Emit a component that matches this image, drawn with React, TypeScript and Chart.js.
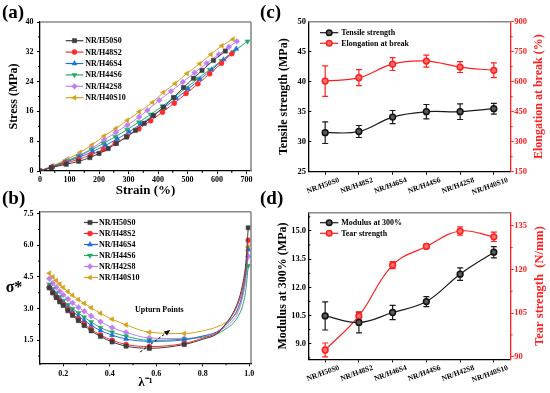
import React, { useEffect, useRef } from 'react';
import { Chart, registerables } from 'chart.js';
import { drawPoint } from 'chart.js/helpers';

Chart.register(...registerables);

const SERIF = '"Liberation Serif", "Times New Roman", Times, serif';
Chart.defaults.font.family = SERIF;
Chart.defaults.color = '#000';

// ---------------- DATA ----------------
const sampleNames = ['NR/H50S0', 'NR/H48S2', 'NR/H46S4', 'NR/H44S6', 'NR/H42S8', 'NR/H40S10'];

// (a) stress-strain
const strainH50S0 = [0, 38, 89, 131, 169, 200, 231, 259, 293, 323, 353, 385, 418, 452, 486, 520, 549, 588, 628];
const stressH50S0 = [0, 0.9, 1.8, 2.6, 3.6, 4.7, 6.0, 7.4, 9.1, 10.9, 12.8, 14.9, 17.1, 19.7, 22.4, 24.9, 27.0, 29.7, 32.2];
const strainH48S2 = [0, 40, 85, 130, 172, 215, 255, 295, 335, 375, 415, 455, 495, 535, 575, 615, 650];
const stressH48S2 = [0, 1.0, 2.1, 3.1, 4.3, 5.8, 7.4, 9.3, 11.3, 13.5, 15.8, 18.2, 20.8, 23.4, 26.1, 28.9, 31.5];
const strainH46S4 = [0, 42, 88, 133, 178, 222, 262, 302, 342, 382, 422, 462, 502, 542, 582, 622, 665];
const stressH46S4 = [0, 1.1, 2.4, 3.7, 5.2, 6.9, 8.6, 10.5, 12.6, 14.8, 17.1, 19.5, 22.0, 24.6, 27.2, 29.9, 32.8];
const strainH44S6 = [0, 40, 85, 130, 175, 215, 255, 295, 335, 375, 415, 455, 495, 535, 575, 615, 655, 703];
const stressH44S6 = [0, 1.2, 2.6, 4.0, 5.7, 7.4, 9.2, 11.1, 13.1, 15.2, 17.4, 19.8, 22.3, 24.8, 27.2, 29.6, 32.0, 34.8];
const strainH42S8 = [0, 43, 93, 136, 176, 217, 257, 296, 336, 364, 404, 444, 484, 524, 565, 606, 640, 667];
const stressH42S8 = [0, 1.2, 2.7, 4.3, 6.1, 8.3, 10.4, 12.3, 14.5, 16.3, 19.0, 21.4, 23.9, 26.4, 28.9, 31.3, 33.3, 34.8];
const strainH40S10 = [0, 43, 93, 136, 176, 217, 257, 296, 336, 381, 418, 458, 498, 541, 579, 616, 654];
const stressH40S10 = [0, 1.4, 3.2, 5.0, 7.0, 9.4, 11.4, 13.6, 15.9, 18.4, 21.1, 23.5, 26.2, 28.8, 31.3, 33.6, 35.4];
const strainTicks = [0, 100, 200, 300, 400, 500, 600, 700];
const stressTicks = [0, 8, 16, 24, 32, 40];

// (b) Mooney-Rivlin
const invLambda = [0.14, 0.155, 0.17, 0.185, 0.2, 0.22, 0.24, 0.265, 0.29, 0.32, 0.36, 0.41, 0.47, 0.57, 0.72, 0.8, 0.86, 0.9, 0.93, 0.95, 0.97, 0.985, 0.995];
const sigmaH50S0 = [3.98, 3.74, 3.52, 3.32, 3.15, 2.9, 2.68, 2.43, 2.2, 1.95, 1.68, 1.42, 1.22, 1.12, 1.3, 1.55, 1.8, 2.3, 2.8, 3.3, 4.1, 5.2, 6.83];
const sigmaH48S2 = [4.0, 3.76, 3.55, 3.36, 3.2, 2.96, 2.75, 2.5, 2.27, 2.02, 1.75, 1.5, 1.3, 1.2, 1.35, 1.6, 1.85, 2.3, 2.75, 3.2, 3.9, 4.9, 6.24];
const sigmaH46S4 = [4.05, 3.83, 3.63, 3.44, 3.27, 3.06, 2.86, 2.64, 2.44, 2.21, 1.96, 1.74, 1.56, 1.45, 1.52, 1.7, 1.9, 2.25, 2.6, 3.0, 3.7, 4.7, 5.8];
const sigmaH44S6 = [4.15, 3.93, 3.73, 3.55, 3.38, 3.18, 3.0, 2.79, 2.59, 2.37, 2.1, 1.88, 1.69, 1.5, 1.55, 1.65, 1.8, 2.05, 2.3, 2.6, 3.1, 3.9, 5.03];
const sigmaH42S8 = [4.42, 4.2, 4.01, 3.82, 3.65, 3.45, 3.27, 3.06, 2.87, 2.65, 2.38, 2.1, 1.87, 1.61, 1.58, 1.7, 1.88, 2.15, 2.45, 2.8, 3.5, 4.4, 5.47];
const sigmaH40S10 = [4.68, 4.5, 4.33, 4.16, 4.0, 3.81, 3.63, 3.43, 3.25, 3.04, 2.78, 2.5, 2.23, 1.88, 1.82, 1.95, 2.13, 2.35, 2.6, 2.9, 3.6, 4.7, 5.92];
const invLambdaTicks = [0.2, 0.4, 0.6, 0.8, 1.0];
const sigmaTicks = [1.5, 3.0, 4.5, 6.0, 7.5];
const upturnArrowFrom = [0.531, 0.95];
const upturnArrowTo = [0.66, 1.99];
const upturnLabelAt = [0.613, 2.95];

// (c) tensile strength / elongation
const tensileStrength = [31.5, 31.7, 34.1, 35.0, 35.0, 35.5];
const tensileErr = [1.8, 1.0, 1.1, 1.2, 1.3, 0.9];
const elongation = [603, 620, 688, 703, 673, 657];
const elongationErr = [76, 40, 32, 30, 27, 37];
const tensileTicks = [25, 30, 35, 40, 45, 50];
const elongationTicks = [150, 300, 450, 600, 750, 900];

// (d) modulus / tear strength
const modulus300 = [10.48, 10.13, 10.66, 11.24, 12.7, 13.87];
const modulusErr = [0.75, 0.55, 0.38, 0.27, 0.33, 0.3];
const tearStrength = [92.3, 104.0, 121.5, 127.9, 133.2, 131.2];
const tearErr = [2.4, 1.3, 1.2, 0.7, 1.4, 1.6];
const modulusTicks = [9.0, 10.5, 12.0, 13.5, 15.0];
const tearTicks = [90, 105, 120, 135];

// ---------------- STYLES ----------------
const seriesStyles = [
  { color: '#3d3d3d', pointStyle: 'rect', rotation: 0, r: 3.0 },
  { color: '#ff2b2b', pointStyle: 'circle', rotation: 0, r: 2.5 },
  { color: '#1c6fe3', pointStyle: 'triangle', rotation: 0, r: 2.9 },
  { color: '#27a865', pointStyle: 'triangle', rotation: 180, r: 2.9 },
  { color: '#c07ff0', pointStyle: 'rectRot', rotation: 0, r: 2.9 },
  { color: '#d8a01a', pointStyle: 'triangle', rotation: -90, r: 2.9 },
];
const RED = '#ff1f1f';
const AXIS = '#000';
const FRAME = '#8a8a8a';

// ---------------- PLUGINS ----------------
const makeFrame = (rightColor: string | null) => ({
  id: 'frame',
  afterDatasetsDraw(chart: any) {
    const { ctx, chartArea: a } = chart;
    ctx.save();
    ctx.lineWidth = 1.6;
    ctx.strokeStyle = FRAME;
    ctx.beginPath();
    ctx.moveTo(a.left, a.top);
    ctx.lineTo(a.right, a.top);
    if (rightColor) {
      ctx.moveTo(a.right, a.top);
      ctx.lineTo(a.right, a.bottom);
    }
    ctx.stroke();
    ctx.restore();
  },
});

type Minor = { id: string; step: number; len: number };
const makeMinorTicks = (list: Minor[]) => ({
  id: 'minorTicks',
  afterDraw(chart: any) {
    const { ctx, chartArea: a } = chart;
    list.forEach(({ id, step, len }) => {
      const s = chart.scales[id];
      if (!s) return;
      const color = s.options.border.color;
      ctx.save();
      ctx.strokeStyle = color;
      ctx.lineWidth = 1;
      const start = Math.ceil(s.min / step - 1e-6);
      const end = Math.floor(s.max / step + 1e-6);
      for (let k = start; k <= end; k++) {
        const v = k * step;
        if (s.ticks.some((t: any) => Math.abs(t.value - v) < step * 1e-3)) continue;
        const p = s.getPixelForValue(v);
        ctx.beginPath();
        if (s.isHorizontal()) {
          ctx.moveTo(p, a.bottom);
          ctx.lineTo(p, a.bottom + len);
        } else if (s.position === 'left') {
          ctx.moveTo(a.left, p);
          ctx.lineTo(a.left - len, p);
        } else {
          ctx.moveTo(a.right, p);
          ctx.lineTo(a.right + len, p);
        }
        ctx.stroke();
      }
      ctx.restore();
    });
  },
});

type LegendCfg = { x: number; y: number; rowH: number; lineLen: number; markerAt: number; textX: number; size: number; radius: number };
const makeLegend = (c: LegendCfg) => ({
  id: 'lineLegend',
  afterDraw(chart: any) {
    const { ctx, chartArea: a } = chart;
    ctx.save();
    ctx.font = `bold ${c.size}px ${SERIF}`;
    ctx.textBaseline = 'middle';
    ctx.textAlign = 'left';
    chart.data.datasets.forEach((ds: any, i: number) => {
      const y = a.top + c.y + i * c.rowH;
      const x0 = a.left + c.x;
      ctx.strokeStyle = ds.borderColor;
      ctx.lineWidth = 1.2;
      ctx.beginPath();
      ctx.moveTo(x0, y);
      ctx.lineTo(x0 + c.lineLen, y);
      ctx.stroke();
      ctx.fillStyle = ds.pointBackgroundColor;
      ctx.strokeStyle = ds.pointBorderColor;
      ctx.lineWidth = ds.pointBorderWidth;
      drawPoint(ctx, { pointStyle: ds.pointStyle, rotation: ds.pointRotation || 0, radius: ds.legendRadius || c.radius, borderWidth: ds.pointBorderWidth }, x0 + c.markerAt, y);
      ctx.fillStyle = '#000';
      ctx.fillText(ds.label, x0 + c.textX, y + 0.5);
    });
    ctx.restore();
  },
});

const errorBars = {
  id: 'errorBars',
  beforeDatasetsDraw(chart: any) {
    const { ctx } = chart;
    chart.data.datasets.forEach((ds: any, i: number) => {
      if (!ds.errors) return;
      const meta = chart.getDatasetMeta(i);
      const ys = chart.scales[meta.yAxisID];
      ctx.save();
      ctx.strokeStyle = ds.borderColor;
      ctx.lineWidth = 1.2;
      meta.data.forEach((pt: any, j: number) => {
        const v = ds.data[j];
        const e = ds.errors[j];
        const yt = ys.getPixelForValue(v + e);
        const yb = ys.getPixelForValue(v - e);
        const x = pt.x;
        ctx.beginPath();
        ctx.moveTo(x, yt);
        ctx.lineTo(x, yb);
        ctx.moveTo(x - 3, yt);
        ctx.lineTo(x + 3, yt);
        ctx.moveTo(x - 3, yb);
        ctx.lineTo(x + 3, yb);
        ctx.stroke();
      });
      ctx.restore();
    });
  },
};

type SideItem = { text: string; x: number; size: number; color: string; rotate: number; y?: number };
const makeSideText = (items: SideItem[]) => ({
  id: 'sideText',
  afterDraw(chart: any) {
    const { ctx, chartArea: a } = chart;
    items.forEach((it) => {
      ctx.save();
      ctx.font = `bold ${it.size}px ${SERIF}`;
      ctx.fillStyle = it.color;
      ctx.textAlign = 'center';
      ctx.textBaseline = 'middle';
      ctx.translate(it.x, it.y ?? (a.top + a.bottom) / 2);
      if (it.rotate) ctx.rotate(it.rotate);
      ctx.fillText(it.text, 0, 0);
      ctx.restore();
    });
  },
});

const upturnPlugin = {
  id: 'upturn',
  afterDatasetsDraw(chart: any) {
    const { ctx } = chart;
    const xs = chart.scales.x;
    const ys = chart.scales.y;
    const x1 = xs.getPixelForValue(upturnArrowFrom[0]);
    const y1 = ys.getPixelForValue(upturnArrowFrom[1]);
    const x2 = xs.getPixelForValue(upturnArrowTo[0]);
    const y2 = ys.getPixelForValue(upturnArrowTo[1]);
    const ang = Math.atan2(y2 - y1, x2 - x1);
    ctx.save();
    ctx.strokeStyle = '#000';
    ctx.fillStyle = '#000';
    ctx.lineWidth = 1;
    ctx.setLineDash([2.5, 2]);
    ctx.beginPath();
    ctx.moveTo(x1, y1);
    ctx.lineTo(x2 - 4 * Math.cos(ang), y2 - 4 * Math.sin(ang));
    ctx.stroke();
    ctx.setLineDash([]);
    ctx.beginPath();
    ctx.moveTo(x2, y2);
    ctx.lineTo(x2 - 6 * Math.cos(ang) + 2.6 * Math.sin(ang), y2 - 6 * Math.sin(ang) - 2.6 * Math.cos(ang));
    ctx.lineTo(x2 - 6 * Math.cos(ang) - 2.6 * Math.sin(ang), y2 - 6 * Math.sin(ang) + 2.6 * Math.cos(ang));
    ctx.closePath();
    ctx.fill();
    ctx.font = `bold 8px ${SERIF}`;
    ctx.textAlign = 'center';
    ctx.textBaseline = 'middle';
    ctx.fillText('Upturn Points', xs.getPixelForValue(upturnLabelAt[0]), ys.getPixelForValue(upturnLabelAt[1]));
    ctx.restore();
  },
};

// ---------------- AXIS HELPERS ----------------
const bold = (size: number) => ({ family: SERIF, size, weight: 'bold' as const });

type AxisOpts = {
  position: 'left' | 'right' | 'bottom';
  min: number;
  max: number;
  ticks: number[];
  fmt: (v: number) => string;
  fit: number;
  tl: number;
  pad: number;
  color: string;
  size: number;
  title?: { text: string; size: number; pt?: number; pb?: number };
};
function linearAxis(o: AxisOpts) {
  return {
    type: 'linear',
    position: o.position,
    min: o.min,
    max: o.max,
    afterBuildTicks: (s: any) => {
      s.ticks = o.ticks.map((v) => ({ value: v }));
    },
    afterFit: (s: any) => {
      if (o.position === 'bottom') s.height = o.fit;
      else s.width = o.fit;
    },
    border: { display: true, color: o.color, width: 1.3 },
    grid: { display: true, drawOnChartArea: false, drawTicks: true, tickLength: o.tl, color: o.color, tickColor: o.color, tickWidth: 1 },
    ticks: { font: bold(o.size), color: o.color, padding: o.pad, autoSkip: false, maxRotation: 0, callback: (v: any) => o.fmt(Number(v)) },
    title: o.title
      ? { display: true, text: o.title.text, color: o.color, font: bold(o.title.size), padding: { top: o.title.pt ?? 0, bottom: o.title.pb ?? 0 } }
      : { display: false },
  };
}

const baseOptions = (padTop: number, padRight: number) => ({
  responsive: false,
  animation: false,
  devicePixelRatio: 1,
  events: [],
  layout: { padding: { top: padTop, right: padRight, left: 0, bottom: 0 } },
  plugins: { legend: { display: false }, tooltip: { enabled: false } },
});

function seriesDataset(i: number, xs: number[], ys: number[], extra: any = {}) {
  const st = seriesStyles[i];
  return {
    label: sampleNames[i],
    data: xs.map((x, j) => ({ x, y: ys[j] })),
    borderColor: st.color,
    backgroundColor: st.color,
    pointBackgroundColor: st.color,
    pointBorderColor: st.color,
    pointBorderWidth: 0.5,
    pointStyle: st.pointStyle,
    pointRotation: st.rotation,
    pointRadius: st.r,
    legendRadius: st.r,
    borderWidth: 1,
    fill: false,
    cubicInterpolationMode: 'monotone',
    ...extra,
  };
}

// ---------------- CHART CONFIGS ----------------
function configA() {
  const xs = [strainH50S0, strainH48S2, strainH46S4, strainH44S6, strainH42S8, strainH40S10];
  const ys = [stressH50S0, stressH48S2, stressH46S4, stressH44S6, stressH42S8, stressH40S10];
  return {
    type: 'line',
    data: { datasets: sampleNames.map((_, i) => seriesDataset(i, xs[i], ys[i])) },
    options: {
      ...baseOptions(22, 24),
      scales: {
        x: linearAxis({ position: 'bottom', min: 0, max: 715, ticks: strainTicks, fmt: (v) => String(v), fit: 29, tl: 3, pad: 1, color: AXIS, size: 8, title: { text: 'Strain (%)', size: 13, pb: 1.2 } }),
        y: linearAxis({ position: 'left', min: 0, max: 40, ticks: stressTicks, fmt: (v) => String(v), fit: 40, tl: 3, pad: 3.5, color: AXIS, size: 8, title: { text: 'Stress (MPa)', size: 12, pt: 6.8 } }),
      },
    },
    plugins: [
      makeFrame(FRAME),
      makeMinorTicks([{ id: 'x', step: 50, len: 2 }, { id: 'y', step: 4, len: 2 }]),
      makeLegend({ x: 25.7, y: 18.7, rowH: 11.4, lineLen: 17.6, markerAt: 8.8, textX: 19.5, size: 8, radius: 2.6 }),
    ],
  };
}

function configB() {
  const ys = [sigmaH50S0, sigmaH48S2, sigmaH46S4, sigmaH44S6, sigmaH42S8, sigmaH40S10];
  return {
    type: 'line',
    data: {
      datasets: sampleNames.map((_, i) =>
        seriesDataset(i, invLambda, ys[i], {
          pointRadius: (ctx: any) => {
            const x = ctx.raw ? ctx.raw.x : 0;
            return x > 0.75 && x < 0.99 ? 0 : seriesStyles[i].r;
          },
        })
      ),
    },
    options: {
      ...baseOptions(21.7, 24),
      scales: {
        x: linearAxis({ position: 'bottom', min: 0.1, max: 1.007, ticks: invLambdaTicks, fmt: (v) => v.toFixed(1), fit: 29.7, tl: 3, pad: 2.5, color: AXIS, size: 8, title: { text: 'λ⁻¹', size: 13, pb: 2.2 } }),
        y: linearAxis({ position: 'left', min: 0.41, max: 7.59, ticks: sigmaTicks, fmt: (v) => v.toFixed(1), fit: 40, tl: 3, pad: 3.5, color: AXIS, size: 8 }),
      },
    },
    plugins: [
      makeFrame(FRAME),
      makeMinorTicks([{ id: 'x', step: 0.1, len: 2 }, { id: 'y', step: 0.75, len: 2 }]),
      makeLegend({ x: 44, y: 10.8, rowH: 11, lineLen: 14, markerAt: 6, textX: 15, size: 8, radius: 2.6 }),
      makeSideText([{ text: 'σ*', x: 14, size: 16, color: '#000', rotate: 0 }]),
      upturnPlugin,
    ],
  };
}

function pairDatasets(lLabel: string, lData: number[], lErr: number[], rLabel: string, rData: number[], rErr: number[]) {
  const common = { pointStyle: 'circle', pointRadius: 2.9, pointBorderWidth: 1.5, borderWidth: 1.2, tension: 0.4, fill: false, legendRadius: 2.8 };
  return [
    { ...common, label: lLabel, data: lData, errors: lErr, yAxisID: 'y', borderColor: '#1a1a1a', backgroundColor: '#1a1a1a', pointBorderColor: '#111', pointBackgroundColor: '#5a5a5a' },
    { ...common, label: rLabel, data: rData, errors: rErr, yAxisID: 'y2', borderColor: RED, backgroundColor: RED, pointBorderColor: RED, pointBackgroundColor: '#ff7070' },
  ];
}

function categoryAxis(fit: number) {
  return {
    type: 'category',
    labels: sampleNames,
    offset: true,
    afterFit: (s: any) => {
      s.height = fit;
    },
    border: { display: true, color: AXIS, width: 1.3 },
    grid: { display: true, drawOnChartArea: false, drawTicks: true, tickLength: 3, color: AXIS, tickColor: AXIS, offset: false },
    ticks: { font: bold(7.5), color: AXIS, padding: 1, autoSkip: false, minRotation: 20, maxRotation: 20, labelOffset: 14 },
  };
}

function configC() {
  return {
    type: 'line',
    data: { labels: sampleNames, datasets: pairDatasets('Tensile strength', tensileStrength, tensileErr, 'Elongation at break', elongation, elongationErr) },
    options: {
      ...baseOptions(21.7, 0),
      scales: {
        x: categoryAxis(28.3),
        y: linearAxis({ position: 'left', min: 25, max: 50, ticks: tensileTicks, fmt: (v) => String(v), fit: 33.3, tl: -3, pad: 5.3, color: AXIS, size: 8.5, title: { text: 'Tensile strength (MPa)', size: 12, pt: 1.8 } }),
        y2: linearAxis({ position: 'right', min: 150, max: 900, ticks: elongationTicks, fmt: (v) => String(v), fit: 39.3, tl: 3, pad: 0.5, color: RED, size: 8.5 }),
      },
    },
    plugins: [
      errorBars,
      makeFrame(null),
      makeMinorTicks([{ id: 'y2', step: 75, len: 2 }]),
      makeLegend({ x: 11.7, y: 11, rowH: 10.6, lineLen: 18.3, markerAt: 9.2, textX: 21.2, size: 8, radius: 2.8 }),
      makeSideText([{ text: 'Elongation at break (%)', x: 264, size: 12, color: RED, rotate: -Math.PI / 2 }]),
    ],
  };
}

function configD() {
  return {
    type: 'line',
    data: { labels: sampleNames, datasets: pairDatasets('Modulus at 300%', modulus300, modulusErr, 'Tear strength', tearStrength, tearErr) },
    options: {
      ...baseOptions(22.7, 0),
      scales: {
        x: categoryAxis(33.7),
        y: linearAxis({ position: 'left', min: 8.17, max: 15.97, ticks: modulusTicks, fmt: (v) => v.toFixed(1), fit: 33.3, tl: -3, pad: 5.3, color: AXIS, size: 8.5, title: { text: 'Modulus at 300% (MPa)', size: 12, pt: 1 } }),
        y2: linearAxis({ position: 'right', min: 89.1, max: 139.5, ticks: tearTicks, fmt: (v) => String(v), fit: 39.3, tl: 3, pad: 0.5, color: RED, size: 8.5 }),
      },
    },
    plugins: [
      errorBars,
      makeFrame(null),
      makeMinorTicks([{ id: 'y', step: 0.75, len: -2 }, { id: 'y2', step: 7.5, len: 2 }]),
      makeLegend({ x: 11.7, y: 10, rowH: 10.6, lineLen: 18.3, markerAt: 9.2, textX: 21.2, size: 8, radius: 2.8 }),
      makeSideText([{ text: 'Tear strength  (N/mm)', x: 265, size: 12.5, color: RED, rotate: -Math.PI / 2 }]),
    ],
  };
}

// ---------------- COMPONENTS ----------------
type PanelProps = { left: number; top: number; width: number; height: number; make: () => any };
function Panel({ left, top, width, height, make }: PanelProps) {
  const ref = useRef<HTMLCanvasElement>(null);
  useEffect(() => {
    const chart = new Chart(ref.current as HTMLCanvasElement, make());
    return () => chart.destroy();
  }, []);
  return <canvas ref={ref} width={width} height={height} style={{ position: 'absolute', left, top, width, height }} />;
}

const labelStyle = (left: number, top: number): React.CSSProperties => ({
  position: 'absolute',
  left,
  top,
  fontFamily: SERIF,
  fontWeight: 'bold',
  fontSize: 19,
  lineHeight: '19px',
  color: '#000',
});

export default function App() {
  return (
    <div style={{ position: 'absolute', left: 0, top: 0, width: 550, height: 393, background: '#fff', overflow: 'hidden' }}>
      <Panel left={0} top={0} width={275} height={200} make={configA} />
      <Panel left={275} top={0} width={275} height={200} make={configC} />
      <Panel left={0} top={190} width={275} height={203} make={configB} />
      <Panel left={275} top={190} width={275} height={203} make={configD} />
      <div style={labelStyle(2, 2)}>(a)</div>
      <div style={labelStyle(2, 188)}>(b)</div>
      <div style={labelStyle(260, 2)}>(c)</div>
      <div style={labelStyle(260, 188)}>(d)</div>
    </div>
  );
}
